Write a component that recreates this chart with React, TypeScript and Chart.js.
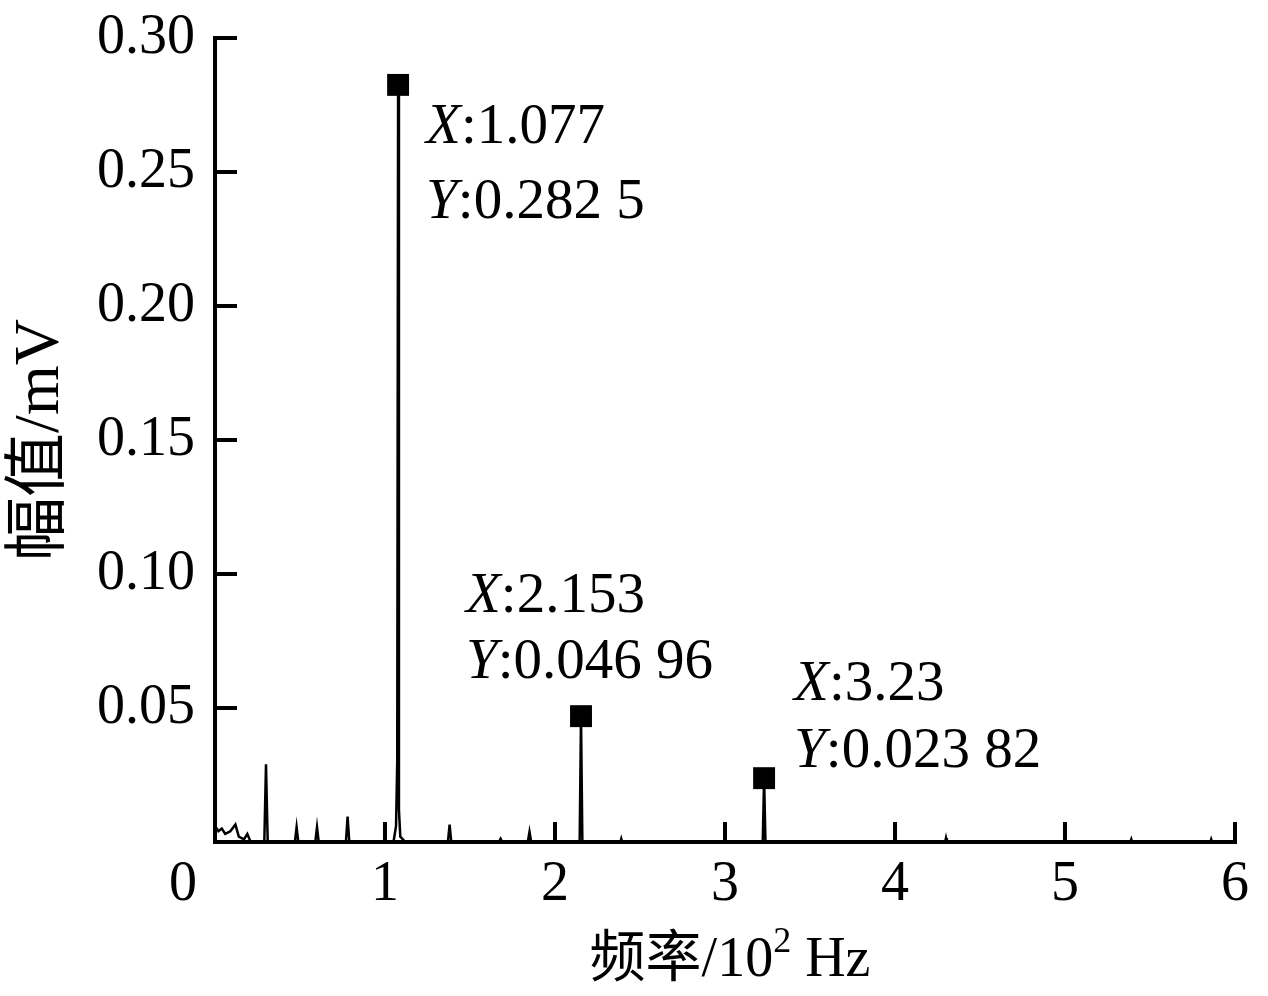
import React, { useEffect, useRef } from "react";
import { Chart, registerables } from "chart.js";

Chart.register(...registerables);

// Spectrum (frequency in 10^2 Hz, amplitude in mV)
const freq = [
  0.0, 0.02, 0.04, 0.06, 0.09, 0.12, 0.14, 0.17, 0.19, 0.21, 0.29, 0.3, 0.31,
  0.47, 0.48, 0.49, 0.59, 0.6, 0.61, 0.77, 0.78, 0.79, 1.05,
  1.065, 1.072, 1.077, 1.082, 1.09, 1.12, 1.37, 1.38, 1.39, 1.67, 1.68,
  1.69, 1.84, 1.85, 1.86, 2.145, 2.153, 2.161, 2.385, 2.39, 2.395, 3.222, 3.23, 3.238,
  4.295, 4.3, 4.305, 5.385, 5.39, 5.395, 5.855, 5.86, 5.865, 6.0,
];
const amp = [
  0.006, 0.004, 0.005, 0.003, 0.004, 0.0065, 0.002, 0.001, 0.003, 0.0,
  0.0, 0.029, 0.0, 0.0, 0.0055, 0.0, 0.0, 0.0055, 0.0,
  0.0, 0.0095, 0.0, 0.0, 0.006, 0.03, 0.2825, 0.012,
  0.002, 0.0, 0.0, 0.0065, 0.0, 0.0, 0.0012, 0.0,
  0.0, 0.0038, 0.0, 0.0, 0.04696, 0.0, 0.0, 0.0012, 0.0, 0.0,
  0.02382, 0.0, 0.0, 0.0015, 0.0, 0.0, 0.001, 0.0, 0.0, 0.001, 0.0, 0.0,
];

// Marked peaks
const peakX = [1.077, 2.153, 3.23];
const peakY = [0.2825, 0.04696, 0.02382];
const peakXText = ["1.077", "2.153", "3.23"];
const peakYText = ["0.282 5", "0.046 96", "0.023 82"];

// Axes
const xTickValues = [0, 1, 2, 3, 4, 5, 6];
const xTickLabels = ["0", "1", "2", "3", "4", "5", "6"];
const yTickValues = [0.05, 0.1, 0.15, 0.2, 0.25, 0.3];
const yTickLabels = ["0.05", "0.10", "0.15", "0.20", "0.25", "0.30"];
const xTitleMain = "频率/10";
const xTitleSup = "2";
const xTitleUnit = " Hz";
const yTitle = "幅值/mV";

// Annotation placement relative to marker (pixels)
const annotOffsets = [
  { dx: 28, dy1: 58, dy2: 133 },
  { dx: -115, dy1: -104, dy2: -38 },
  { dx: 30, dy1: -78, dy2: -11 },
];

const SERIF = '"Liberation Serif", "Times New Roman", "Noto Sans CJK SC", serif';

const decorPlugin = {
  id: "decor",
  afterDraw(chart: any) {
    const ctx = chart.ctx as CanvasRenderingContext2D;
    const { left, right, top, bottom } = chart.chartArea;
    const xs = chart.scales.x;
    const ys = chart.scales.y;
    ctx.save();
    // axis lines
    ctx.strokeStyle = "#000";
    ctx.lineWidth = 4;
    ctx.lineCap = "square";
    ctx.beginPath();
    ctx.moveTo(left, top);
    ctx.lineTo(left, bottom);
    ctx.lineTo(right, bottom);
    ctx.stroke();
    ctx.lineCap = "butt";
    // inward ticks
    ctx.lineWidth = 4;
    xTickValues.forEach((v) => {
      if (v === 0) return;
      const px = xs.getPixelForValue(v);
      ctx.beginPath();
      ctx.moveTo(px, bottom);
      ctx.lineTo(px, bottom - 20);
      ctx.stroke();
    });
    yTickValues.forEach((v) => {
      const py = ys.getPixelForValue(v);
      ctx.beginPath();
      ctx.moveTo(left, py);
      ctx.lineTo(left + 22, py);
      ctx.stroke();
    });
    // x tick labels
    ctx.fillStyle = "#000";
    ctx.font = `56px ${SERIF}`;
    ctx.textAlign = "center";
    ctx.textBaseline = "alphabetic";
    xTickValues.forEach((v, i) => {
      const px = xs.getPixelForValue(v) + (v === 0 ? -32 : 0);
      ctx.fillText(xTickLabels[i], px, 900);
    });
    // annotations
    ctx.textAlign = "left";
    peakX.forEach((x, i) => {
      const px = xs.getPixelForValue(x);
      const py = ys.getPixelForValue(peakY[i]);
      const o = annotOffsets[i];
      const drawPair = (letter: string, rest: string, yy: number) => {
        ctx.font = `italic 57px ${SERIF}`;
        ctx.fillText(letter, px + o.dx, yy);
        const w = ctx.measureText(letter).width;
        ctx.font = `57px ${SERIF}`;
        ctx.fillText(":" + rest, px + o.dx + w, yy);
      };
      drawPair("X", peakXText[i], py + o.dy1);
      drawPair("Y", peakYText[i], py + o.dy2);
    });
    // x title
    const mainFont = `56px ${SERIF}`;
    const supFont = `36px ${SERIF}`;
    ctx.font = mainFont;
    const w1 = ctx.measureText(xTitleMain).width;
    const w3 = ctx.measureText(xTitleUnit).width;
    ctx.font = supFont;
    const w2 = ctx.measureText(xTitleSup).width;
    const total = w1 + w2 + w3;
    const cx = 730;
    let sx = cx - total / 2;
    const by = 976;
    ctx.font = mainFont;
    ctx.fillText(xTitleMain, sx, by);
    sx += w1;
    ctx.font = supFont;
    ctx.fillText(xTitleSup, sx, by - 24);
    sx += w2;
    ctx.font = mainFont;
    ctx.fillText(xTitleUnit, sx, by);
    // y title
    ctx.save();
    ctx.translate(58, 440);
    ctx.rotate(-Math.PI / 2);
    ctx.font = `64px ${SERIF}`;
    ctx.textAlign = "center";
    ctx.fillText(yTitle, 0, 0);
    ctx.restore();
    ctx.restore();
  },
};

export default function App() {
  const ref = useRef<HTMLCanvasElement | null>(null);
  useEffect(() => {
    document.body.style.margin = "0";
    const canvas = ref.current!;
    const chart = new Chart(canvas, {
      type: "line",
      data: {
        datasets: [
          {
            type: "scatter",
            data: peakX.map((x, i) => ({ x, y: peakY[i] })),
            pointStyle: "rect",
            pointRadius: 15.5,
            backgroundColor: "#000",
            borderColor: "#000",
            borderWidth: 0,
            showLine: false,
            clip: false,
          } as any,
          {
            type: "line",
            data: freq.map((x, i) => ({ x, y: amp[i] })),
            borderColor: "#000",
            borderWidth: 2.5,
            pointRadius: 0,
            tension: 0,
            fill: false,
          },
        ],
      },
      options: {
        responsive: false,
        animation: false,
        devicePixelRatio: 1,
        layout: { padding: { left: 0, top: 38, right: 33, bottom: 0 } },
        plugins: { legend: { display: false }, tooltip: { enabled: false } },
        scales: {
          x: {
            type: "linear",
            min: 0,
            max: 6,
            grid: { display: false, drawTicks: false },
            border: { display: false },
            ticks: { display: false, stepSize: 1 },
            afterFit: (s: any) => {
              s.height = 154;
              s.paddingLeft = 0;
              s.paddingRight = 0;
            },
          },
          y: {
            type: "linear",
            min: 0,
            max: 0.3,
            grid: { display: false, drawTicks: false },
            border: { display: false },
            afterFit: (s: any) => {
              s.width = 215;
              s.paddingTop = 0;
              s.paddingBottom = 0;
            },
            afterBuildTicks: (s: any) => {
              s.ticks = yTickValues.map((v) => ({ value: v }));
            },
            ticks: {
              padding: 20,
              color: "#000",
              font: { family: SERIF, size: 56 },
              callback: (v: any) => {
                const idx = yTickValues.findIndex((t) => Math.abs(t - v) < 1e-9);
                return idx >= 0 ? yTickLabels[idx] : "";
              },
            },
          },
        },
      },
      plugins: [decorPlugin],
    });
    return () => chart.destroy();
  }, []);
  return (
    <div style={{ position: "absolute", left: 0, top: 0, width: 1268, height: 996, background: "#fff" }}>
      <canvas ref={ref} width={1268} height={996} style={{ width: 1268, height: 996 }} />
    </div>
  );
}
